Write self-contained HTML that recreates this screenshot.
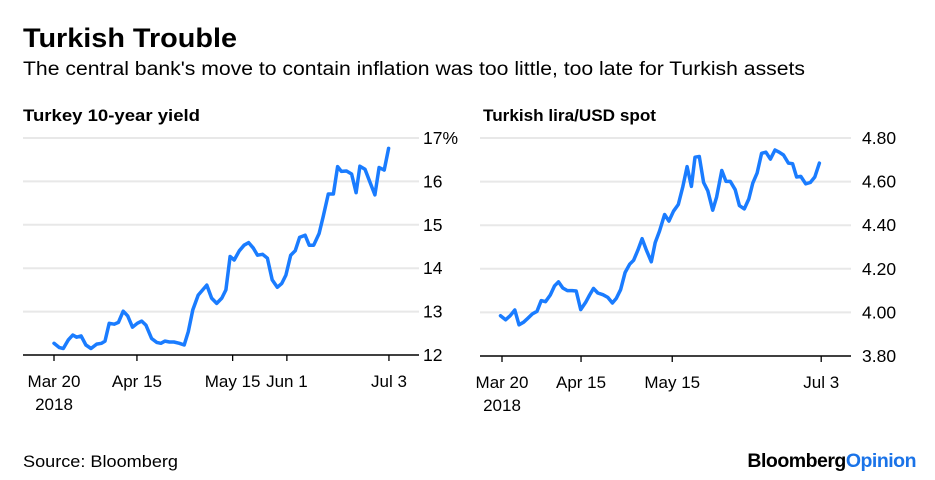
<!DOCTYPE html>
<html><head><meta charset="utf-8"><style>
html,body{margin:0;padding:0;background:#fff;}
svg{display:block;font-family:"Liberation Sans",sans-serif;}
</style></head><body>
<svg id="chart" width="935" height="480" viewBox="0 0 935 480">
<text x="23" y="47" font-size="27" font-weight="bold" fill="#000" textLength="214" lengthAdjust="spacingAndGlyphs">Turkish Trouble</text>
<text x="23" y="75" font-size="19" fill="#000" textLength="782" lengthAdjust="spacingAndGlyphs">The central bank's move to contain inflation was too little, too late for Turkish assets</text>
<text x="23" y="121" font-size="16.5" font-weight="bold" textLength="177" lengthAdjust="spacingAndGlyphs">Turkey 10-year yield</text>
<text x="483" y="121" font-size="16.5" font-weight="bold" textLength="173" lengthAdjust="spacingAndGlyphs">Turkish lira/USD spot</text>
<g id="left"></g>
<g id="right"></g>
<text x="23" y="467" font-size="17" fill="#000" textLength="155" lengthAdjust="spacingAndGlyphs">Source: Bloomberg</text>
<text x="916" y="467" font-size="19.5" font-weight="bold" text-anchor="end" letter-spacing="-0.5"><tspan fill="#000">Bloomberg</tspan><tspan fill="#1a73e8">Opinion</tspan></text>
</svg>
<script>
const yieldDays=[0,1.7,2.9,4.5,5.9,7.1,8.5,10,11.6,13.4,14.9,16,17.3,18.9,20.2,21.7,23.1,24.6,26.1,27.5,28.8,30.6,32.2,33.5,34.8,36.2,37.6,39.3,40.8,42.1,43.5,45.2,46.6,47.9,49.4,51,52.6,53.9,55.2,56.5,58.1,59.6,61,62.5,63.8,65.4,66.9,68.4,70,71.4,72.7,74.2,75.6,77,78.7,80,81.4,83.1,84.4,86,87.6,88.9,90.1,91.7,93.3,94.7,95.9,97.5,99,100.6,101.9,103.5,104.9];
const yieldValues=[12.27,12.17,12.15,12.35,12.46,12.41,12.44,12.23,12.15,12.25,12.27,12.32,12.73,12.71,12.75,13.01,12.9,12.64,12.73,12.78,12.69,12.38,12.29,12.27,12.32,12.3,12.3,12.27,12.23,12.54,13.04,13.38,13.5,13.61,13.31,13.19,13.31,13.5,14.27,14.19,14.4,14.53,14.59,14.46,14.3,14.32,14.23,13.73,13.56,13.65,13.84,14.3,14.4,14.71,14.76,14.53,14.53,14.8,15.19,15.71,15.71,16.34,16.23,16.24,16.17,15.74,16.35,16.28,15.99,15.69,16.32,16.26,16.76];
const yieldTicks=[12,13,14,15,16,17];
const yieldTickLabels=["12","13","14","15","16","17%"];
const liraDays=[-0.5,1.2,2.7,4.2,5.6,7.1,8.5,10,11.5,12.9,14.3,15.9,17.3,18.6,20,21.5,23.1,24.4,25.9,27.5,28.8,30.1,31.5,33.2,34.8,36.3,37.6,39,40.5,42,43.3,44.7,46.1,47.4,49.1,50.4,51.8,53.5,54.9,56.4,58,59.5,60.9,62.3,63.5,64.9,66.3,67.7,69.3,70.6,72.3,73.7,75.1,76.7,78.1,79.7,81.2,82.5,83.9,85.4,86.8,88.3,89.8,91.2,92.6,94.2,95.6,96.9,98.3,99.9,101.4,102.9,104.4];
const liraValues=[3.985,3.966,3.985,4.011,3.943,3.955,3.973,3.993,4.005,4.054,4.049,4.08,4.122,4.14,4.112,4.1,4.1,4.098,4.013,4.046,4.08,4.11,4.089,4.081,4.069,4.043,4.064,4.104,4.183,4.221,4.239,4.286,4.338,4.289,4.232,4.32,4.373,4.449,4.419,4.464,4.495,4.578,4.669,4.578,4.712,4.715,4.596,4.558,4.469,4.529,4.651,4.601,4.601,4.563,4.49,4.475,4.52,4.593,4.639,4.73,4.735,4.703,4.745,4.735,4.722,4.685,4.682,4.621,4.624,4.59,4.596,4.621,4.685];
const liraTicks=[3.8,4.0,4.2,4.4,4.6,4.8];
const liraTickLabels=["3.80","4.00","4.20","4.40","4.60","4.80"];
const leftDateTicks=[0,26,56,73,105];
const leftDateLabels=["Mar 20","Apr 15","May 15","Jun 1","Jul 3"];
const rightDateTicks=[0,26,56,105];
const rightDateLabels=["Mar 20","Apr 15","May 15","Jul 3"];

const NS="http://www.w3.org/2000/svg";
function mk(parent,tag,attrs){const e=document.createElementNS(NS,tag);for(const k in attrs)e.setAttribute(k,attrs[k]);parent.appendChild(e);return e;}

function panel(g,cfg){
  const x=d=>cfg.x0+d*cfg.dx;
  const y=v=>cfg.yBot-(v-cfg.vMin)/(cfg.vMax-cfg.vMin)*(cfg.yBot-cfg.yTop);
  cfg.ticks.forEach((t,i)=>{
    if(i>0){const l=mk(g,'line',{x1:cfg.axL,x2:cfg.axR,y1:y(t),y2:y(t),stroke:'#e8e8e8','stroke-width':2});
    
    }
    const tx=mk(g,'text',{x:cfg.labX,y:y(t)+6,'font-size':17.5,fill:'#000'});
    tx.textContent=cfg.tickLabels[i];
    
    
  });
  const ax=mk(g,'line',{x1:cfg.axL,x2:cfg.axR,y1:y(cfg.vMin),y2:y(cfg.vMin),stroke:'#000','stroke-width':1.5});
  
  
  cfg.dTicks.forEach((d,i)=>{
    const tk=mk(g,'line',{x1:x(d),x2:x(d),y1:y(cfg.vMin),y2:y(cfg.vMin)+6,stroke:'#000','stroke-width':1.3});
    
    
    const tx=mk(g,'text',{x:x(d),y:y(cfg.vMin)+32,'font-size':17,'text-anchor':'middle'});
    tx.textContent=cfg.dLabels[i];
    
    
  });
  const yr=mk(g,'text',{x:x(0),y:y(cfg.vMin)+55,'font-size':17,'text-anchor':'middle'});
  yr.textContent='2018';
  
  
  const pts=cfg.days.map((d,i)=>x(d).toFixed(1)+','+y(cfg.vals[i]).toFixed(1)).join(' ');
  const pl=mk(g,'polyline',{points:pts,fill:'none',stroke:'#1a7cff','stroke-width':3.5,'stroke-linejoin':'round','stroke-linecap':'round'});
  
  
}
panel(document.getElementById('left'),{x0:54,dx:3.19,yTop:138,yBot:355,vMin:12,vMax:17,axL:23,axR:419,labX:423,ticks:yieldTicks,tickLabels:yieldTickLabels,dTicks:leftDateTicks,dLabels:leftDateLabels,days:yieldDays,vals:yieldValues});
panel(document.getElementById('right'),{x0:502,dx:3.04,yTop:138,yBot:356,vMin:3.8,vMax:4.8,axL:480,axR:851,labX:862,ticks:liraTicks,tickLabels:liraTickLabels,dTicks:rightDateTicks,dLabels:rightDateLabels,days:liraDays,vals:liraValues});
</script>
</body></html>
